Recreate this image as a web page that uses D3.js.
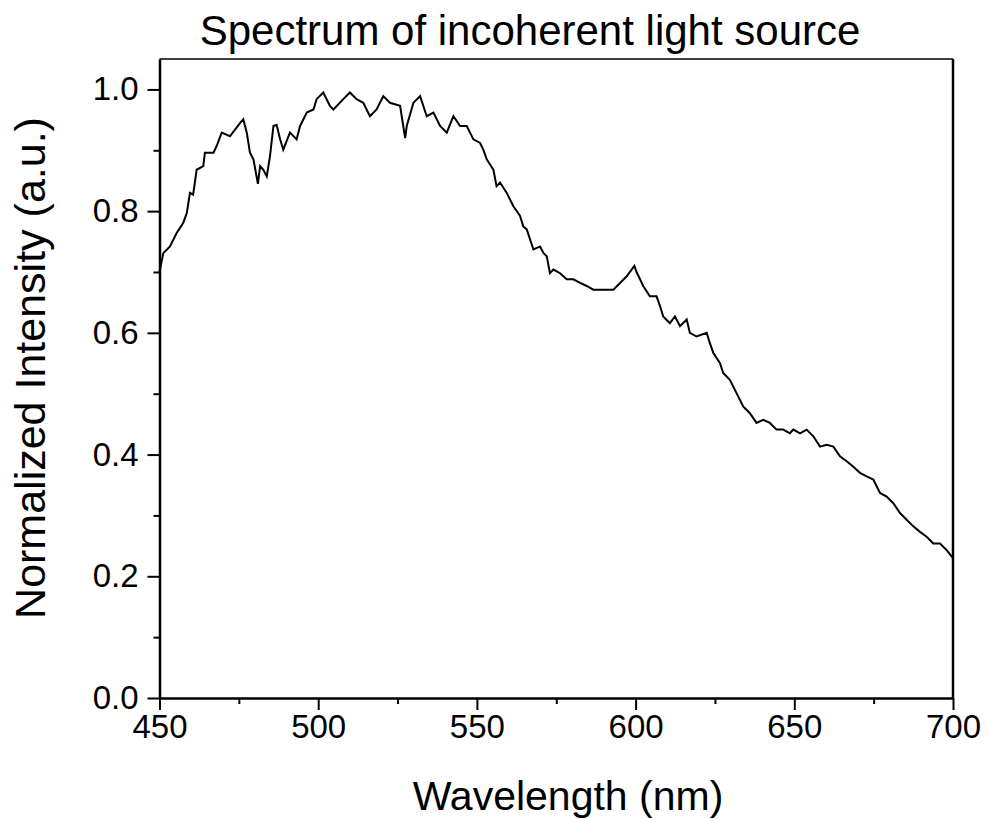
<!DOCTYPE html>
<html>
<head>
<meta charset="utf-8">
<script src="https://cdn.jsdelivr.net/npm/d3@7"></script>
<style>
  html, body { margin: 0; padding: 0; background: #fff; }
  svg { display: block; font-family: "Liberation Sans", Arial, sans-serif; }
</style>
</head>
<body>
<svg id="chart" width="987" height="819"></svg>
<script>
// ---- data ----
const wavelength = [
  450.0,451.2,453.3,455.4,457.5,458.6,459.6,460.6,461.7,463.8,464.3,467.0,468.0,469.6,472.2,475.4,476.4,477.5,478.5,479.6,
  481.0,481.7,482.7,483.8,484.8,485.9,486.9,488.0,489.0,491.1,493.2,494.3,496.4,498.5,499.5,501.6,503.7,504.8,507.9,510.0,
  512.1,514.2,516.3,518.4,520.5,522.6,525.8,527.4,527.9,530.0,532.1,534.2,536.3,538.4,540.5,542.6,544.7,546.8,548.9,551.0,
  552.0,553.1,555.2,556.2,557.3,559.4,561.5,563.6,564.6,565.7,567.8,569.9,571.0,572.0,573.0,574.1,576.2,578.3,580.4,582.5,
  584.6,586.7,588.8,590.9,593.0,595.1,597.2,599.6,600.3,601.4,602.4,604.5,606.6,607.7,608.7,610.8,612.4,614.0,616.1,617.1,
  619.2,622.4,623.4,624.5,626.6,627.6,629.7,631.8,633.9,636.0,638.1,640.2,642.3,644.4,646.5,648.6,649.7,651.8,653.9,656.0,
  658.1,660.2,662.3,664.4,666.5,668.6,670.7,672.8,674.9,677.0,679.1,681.2,683.3,685.4,687.5,689.6,691.7,693.8,695.9,698.0,
  700.0
];
const intensity = [
  0.700,0.731,0.742,0.764,0.781,0.797,0.830,0.827,0.868,0.874,0.896,0.896,0.907,0.929,0.923,0.945,0.951,0.929,0.896,0.885,
  0.845,0.874,0.868,0.857,0.890,0.940,0.942,0.918,0.901,0.929,0.918,0.940,0.962,0.967,0.984,0.995,0.973,0.967,0.984,0.995,
  0.984,0.978,0.956,0.967,0.989,0.978,0.973,0.920,0.940,0.978,0.989,0.956,0.962,0.940,0.929,0.956,0.940,0.940,0.918,0.912,
  0.901,0.885,0.868,0.841,0.847,0.830,0.808,0.792,0.775,0.770,0.737,0.742,0.731,0.726,0.698,0.704,0.698,0.688,0.688,0.682,
  0.677,0.671,0.671,0.671,0.671,0.682,0.693,0.710,0.700,0.688,0.677,0.660,0.660,0.644,0.627,0.616,0.627,0.611,0.622,0.600,
  0.594,0.600,0.583,0.567,0.550,0.534,0.523,0.501,0.479,0.468,0.452,0.457,0.452,0.441,0.441,0.435,0.441,0.435,0.441,0.430,
  0.413,0.416,0.413,0.397,0.389,0.380,0.370,0.364,0.359,0.337,0.331,0.320,0.304,0.293,0.282,0.273,0.265,0.254,0.254,0.243,
  0.230
];
const xTicks = [450, 500, 550, 600, 650, 700];
const xMinorTicks = [475, 525, 575, 625, 675];
const yTicks = [0.0, 0.2, 0.4, 0.6, 0.8, 1.0];
const yMinorTicks = [0.1, 0.3, 0.5, 0.7, 0.9];
const titleText = "Spectrum of incoherent light source";
const xLabel = "Wavelength (nm)";
const yLabel = "Normalized Intensity (a.u.)";

// ---- layout ----
const L = 159.5, R = 953, T = 59, B = 698;
const svg = d3.select("#chart");
const x = d3.scaleLinear().domain([450, 700]).range([L, R]);
const y = d3.scaleLinear().domain([0, 1.05]).range([B, T]);

const points = wavelength.map((w, i) => [w, intensity[i]]);

// curve
svg.append("path")
  .datum(points)
  .attr("fill", "none")
  .attr("stroke", "#000")
  .attr("stroke-width", 2)
  .attr("stroke-linejoin", "miter")
  .attr("d", d3.line().x(d => x(d[0])).y(d => y(d[1])));

// frame top & right
svg.append("line").attr("x1", L).attr("x2", R).attr("y1", T).attr("y2", T)
  .attr("stroke", "#000").attr("stroke-width", 1.5);
svg.append("line").attr("x1", R).attr("x2", R).attr("y1", T).attr("y2", B)
  .attr("stroke", "#000").attr("stroke-width", 2.5);

// x axis
const gx = svg.append("g").attr("transform", `translate(0,${B})`);
gx.call(d3.axisBottom(x).tickValues(xMinorTicks).tickSize(6).tickFormat(""))
  .call(g => g.select(".domain").remove());
gx.append("g").call(d3.axisBottom(x).tickValues(xTicks).tickSize(12).tickSizeOuter(0).tickPadding(5).tickFormat(d3.format("d")));
gx.selectAll("line").attr("stroke", "#000").attr("stroke-width", 2);
gx.selectAll(".domain").attr("stroke", "#000").attr("stroke-width", 2.5);
gx.selectAll("text").attr("font-size", 33).attr("fill", "#000")
  .attr("font-family", "'Liberation Sans', Arial, sans-serif");

// y axis
const gy = svg.append("g").attr("transform", `translate(${L},0)`);
gy.call(d3.axisLeft(y).tickValues(yMinorTicks).tickSize(6).tickFormat(""))
  .call(g => g.select(".domain").remove());
gy.append("g").call(d3.axisLeft(y).tickValues(yTicks).tickSize(12).tickSizeOuter(0).tickPadding(9).tickFormat(d3.format(".1f")));
gy.selectAll("line").attr("stroke", "#000").attr("stroke-width", 2);
gy.selectAll(".domain").attr("stroke", "#000").attr("stroke-width", 2.5);
gy.selectAll("text").attr("font-size", 33).attr("fill", "#000")
  .attr("font-family", "'Liberation Sans', Arial, sans-serif");

// titles
svg.append("text").attr("x", 530).attr("y", 45).attr("text-anchor", "middle")
  .attr("font-size", 42).attr("fill", "#000").text(titleText);
svg.append("text").attr("x", 568).attr("y", 810).attr("text-anchor", "middle")
  .attr("font-size", 41).attr("fill", "#000").text(xLabel);
svg.append("text").attr("transform", "translate(45,368) rotate(-90)").attr("text-anchor", "middle")
  .attr("font-size", 43).attr("fill", "#000").text(yLabel);
</script>
</body>
</html>
